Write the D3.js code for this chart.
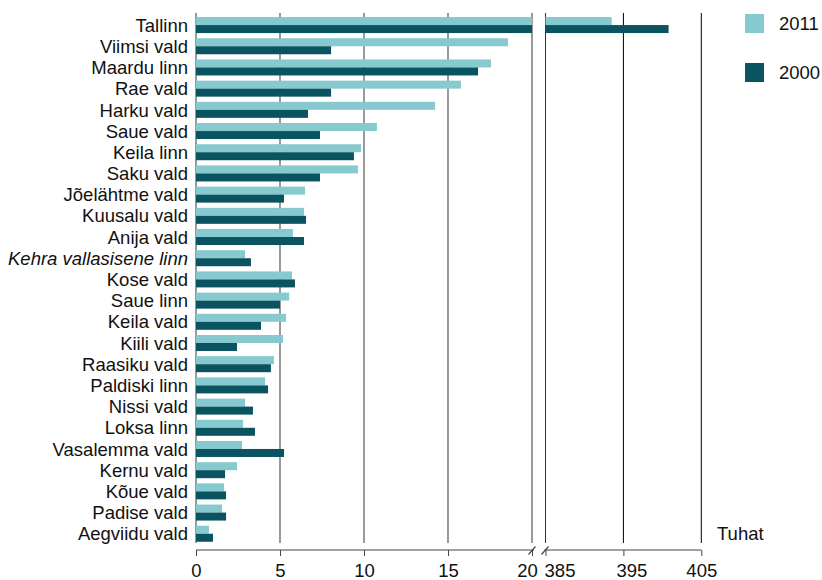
<!DOCTYPE html>
<html>
<head>
<meta charset="utf-8">
<script src="https://cdn.jsdelivr.net/npm/d3@7"></script>
<style>
  html, body { margin: 0; padding: 0; background: #fff; }
  svg { display: block; font-family: "Liberation Sans", Arial, sans-serif; }
</style>
</head>
<body>
<svg id="chart" width="822" height="580"></svg>
<script>
const categories = ["Tallinn","Viimsi vald","Maardu linn","Rae vald","Harku vald","Saue vald","Keila linn","Saku vald","Jõelähtme vald","Kuusalu vald","Anija vald","Kehra vallasisene linn","Kose vald","Saue linn","Keila vald","Kiili vald","Raasiku vald","Paldiski linn","Nissi vald","Loksa linn","Vasalemma vald","Kernu vald","Kõue vald","Padise vald","Aegviidu vald"];
const values2011 = [393.5,18.57,17.56,15.77,14.23,10.77,9.82,9.64,6.49,6.43,5.77,2.92,5.71,5.54,5.36,5.18,4.64,4.11,2.92,2.80,2.74,2.44,1.67,1.55,0.77];
const values2000 = [400.8,8.04,16.79,8.04,6.67,7.38,9.40,7.38,5.24,6.55,6.43,3.27,5.89,5.00,3.87,2.44,4.46,4.29,3.39,3.51,5.24,1.73,1.79,1.79,1.01];
const italicCategories = ["Kehra vallasisene linn"];
const seriesNames = ["2011","2000"];
const leftTicks = [0,5,10,15,20];
const rightTicks = [385,395,405];
const unitLabel = "Tuhat";

const colors = { "2011": "#86C9CF", "2000": "#0A5461" };
const svg = d3.select("#chart");
const fs = 18.5;

const plotTop = 13, gridBottom = 543, axisY = 550;
const xL = d3.scaleLinear().domain([0, 20]).range([196, 532]);
const xR = d3.scaleLinear().domain([385, 405]).range([545.5, 701.3]);
const y = d3.scaleBand().domain(categories).range([plotTop, axisY])
  .paddingInner(0.245).paddingOuter(0.29).align(0.33);
const sub = d3.scaleBand().domain(seriesNames).range([0, y.bandwidth()]);

// grid lines
const gL = svg.append("g");
gL.selectAll("line").data(leftTicks).join("line")
  .attr("x1", d => xL(d)).attr("x2", d => xL(d))
  .attr("y1", plotTop).attr("y2", gridBottom)
  .attr("stroke", "#808080").attr("stroke-width", 1.6);
const gR = svg.append("g");
gR.selectAll("line").data(rightTicks).join("line")
  .attr("x1", d => xR(d)).attr("x2", d => xR(d))
  .attr("y1", plotTop).attr("y2", gridBottom)
  .attr("stroke", d => d === rightTicks[0] ? "#333" : "#000").attr("stroke-width", 1);

// bars
const rows = categories.map((c, i) => ({ c, v: { "2011": values2011[i], "2000": values2000[i] } }));
const barData = [];
rows.forEach(r => seriesNames.forEach(s => barData.push({ c: r.c, s, v: r.v[s] })));
const gb = svg.append("g");
gb.selectAll("rect.l").data(barData).join("rect").attr("class", "l")
  .attr("x", xL(0))
  .attr("y", d => y(d.c) + sub(d.s))
  .attr("width", d => xL(Math.min(d.v, 20)) - xL(0))
  .attr("height", sub.bandwidth())
  .attr("fill", d => colors[d.s]);
gb.selectAll("rect.r").data(barData.filter(d => d.v > 20)).join("rect").attr("class", "r")
  .attr("x", xR(385))
  .attr("y", d => y(d.c) + sub(d.s))
  .attr("width", d => xR(d.v) - xR(385))
  .attr("height", sub.bandwidth())
  .attr("fill", d => colors[d.s]);

// category labels
svg.append("g").selectAll("text").data(categories).join("text")
  .attr("x", 188)
  .attr("y", d => y(d) + y.bandwidth() / 2)
  .attr("dy", "0.36em")
  .attr("text-anchor", "end")
  .attr("font-size", fs)
  .attr("font-style", d => italicCategories.includes(d) ? "italic" : "normal")
  .attr("fill", "#111")
  .text(d => d);

// bottom axes
const axisColor = "#444";
const axL = svg.append("g").attr("transform", `translate(0,${axisY})`)
  .call(d3.axisBottom(xL).tickValues(leftTicks).tickSizeInner(6).tickSizeOuter(0).tickPadding(8));
const axR = svg.append("g").attr("transform", `translate(0,${axisY})`)
  .call(d3.axisBottom(xR).tickValues(rightTicks).tickSizeInner(6).tickSizeOuter(0).tickPadding(8));
[axL, axR].forEach(a => {
  a.select(".domain").remove();
  a.selectAll(".tick line").attr("stroke", axisColor);
  a.selectAll(".tick text").attr("font-size", fs).attr("fill", "#111")
    .attr("font-family", "Liberation Sans, Arial, sans-serif");
});
const labelShift = { 20: -5, 385: 14, 395: 8, 405: 0 };
axL.selectAll(".tick text").attr("dx", d => labelShift[d] || 0);
axR.selectAll(".tick text").attr("dx", d => labelShift[d] || 0);

svg.append("line").attr("x1", xL(0)).attr("x2", xL(20) + 2)
  .attr("y1", axisY).attr("y2", axisY).attr("stroke", axisColor).attr("stroke-width", 1.2);
svg.append("line").attr("x1", xR(385) - 1).attr("x2", xR(405))
  .attr("y1", axisY).attr("y2", axisY).attr("stroke", axisColor).attr("stroke-width", 1.2);
// break marks
[xL(20), xR(385) - 0.5].forEach(cx => {
  svg.append("line").attr("x1", cx - 3.5).attr("y1", axisY + 4.5)
    .attr("x2", cx + 3.5).attr("y2", axisY - 3.5)
    .attr("stroke", axisColor).attr("stroke-width", 1.2);
});

// unit label
svg.append("text").attr("x", 717).attr("y", 540)
  .attr("font-size", fs).attr("fill", "#111").text(unitLabel);

// legend
const lg = svg.append("g");
seriesNames.forEach((s, i) => {
  lg.append("rect").attr("x", 745).attr("y", 14 + i * 49).attr("width", 19).attr("height", 19)
    .attr("fill", colors[s]);
  lg.append("text").attr("x", 779).attr("y", 14 + i * 49 + 9.5).attr("dy", "0.36em")
    .attr("font-size", fs).attr("fill", "#111").text(s);
});
</script>
</body>
</html>
